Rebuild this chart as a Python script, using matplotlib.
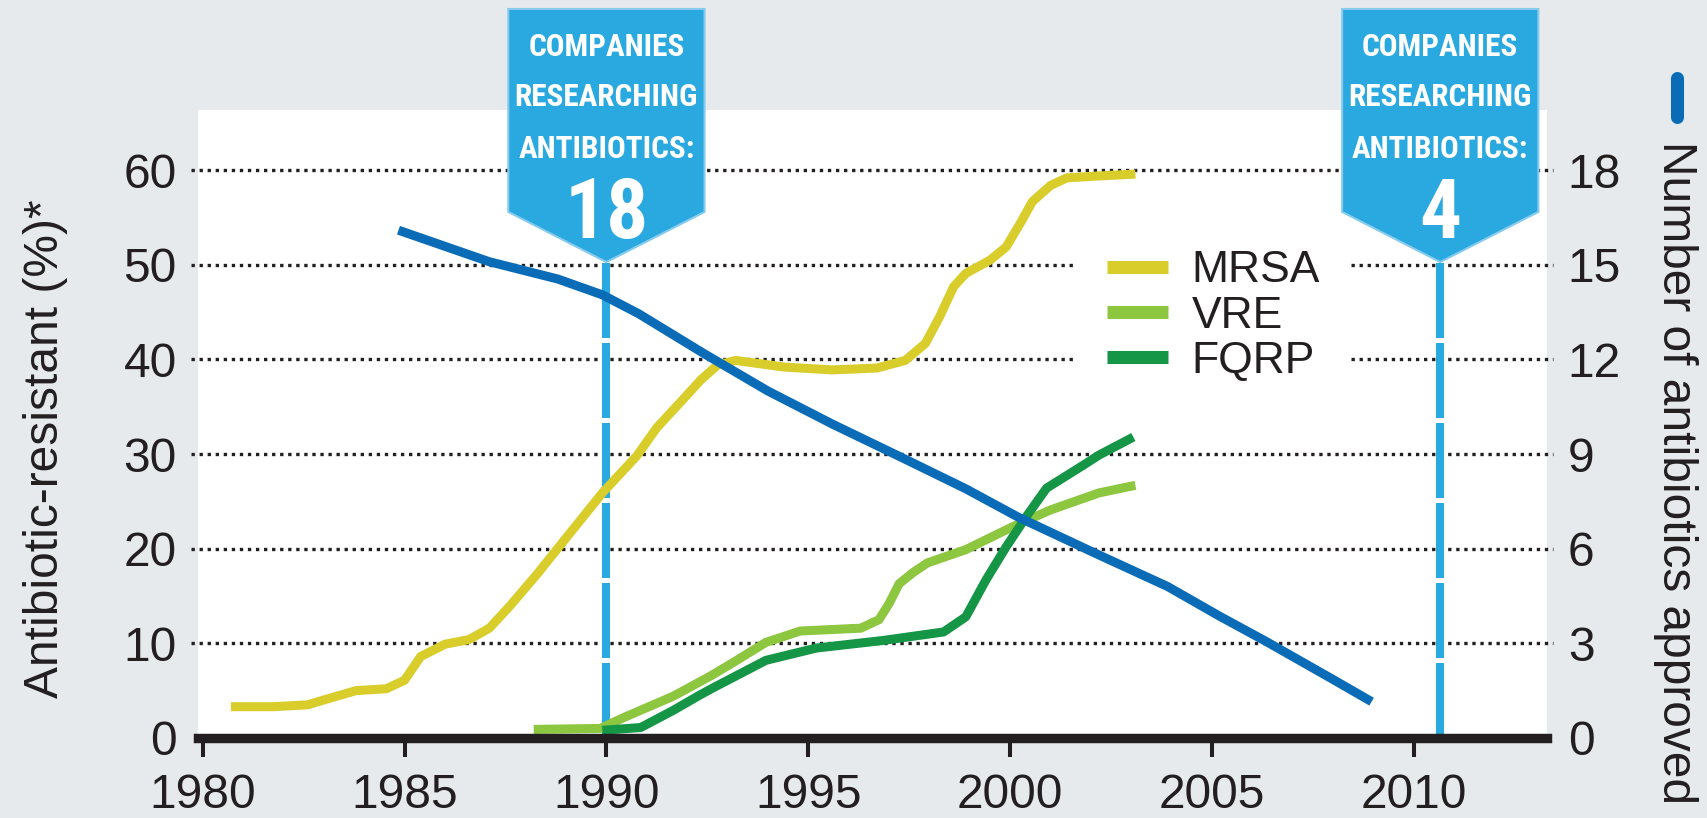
import matplotlib
matplotlib.use('Agg')
import matplotlib.pyplot as plt
from matplotlib.lines import Line2D
from matplotlib.patches import Polygon

# Resistance rates (%).
mrsa_years = [1980.7, 1981.75, 1982.6, 1983.15, 1983.8, 1984.55, 1985.0, 1985.4, 1986.0, 1986.6,
              1987.1, 1987.6, 1988.3, 1988.9, 1989.9, 1990.75, 1991.25, 1991.9, 1992.35, 1992.75,
              1993.2, 1994.4, 1995.6, 1996.7, 1997.4, 1997.9, 1998.25, 1998.6, 1998.9, 1999.5,
              1999.9, 2000.25, 2000.55, 2001.0, 2001.4, 2002.2, 2003.1]
mrsa_pct = [3.3, 3.3, 3.5, 4.2, 5.0, 5.2, 6.1, 8.6, 9.9, 10.4,
            11.6, 13.9, 17.4, 20.6, 25.9, 29.8, 32.8, 35.8, 37.9, 39.4,
            39.9, 39.2, 38.9, 39.1, 39.9, 41.7, 44.5, 47.7, 49.1, 50.5,
            51.9, 54.4, 56.7, 58.4, 59.2, 59.4, 59.6]

vre_years = [1988.2, 1989.85, 1990.4, 1991.65, 1992.3, 1992.6, 1993.15, 1993.95, 1994.8, 1996.3,
             1996.75, 1997.0, 1997.25, 1997.6, 1997.95, 1998.9, 2000.05, 2001.0, 2002.2, 2003.1]
vre_pct = [0.9, 1.0, 2.1, 4.4, 5.9, 6.6, 8.0, 10.1, 11.3, 11.6,
           12.5, 14.2, 16.3, 17.5, 18.5, 19.9, 22.3, 24.1, 25.9, 26.7]

fqrp_years = [1989.9, 1990.85, 1991.65, 1992.3, 1992.6, 1993.95, 1995.2, 1996.85, 1998.35, 1998.9,
              1999.4, 1999.9, 2000.4, 2000.9, 2001.8, 2002.2, 2003.05]
fqrp_pct = [0.8, 1.1, 2.9, 4.5, 5.2, 8.2, 9.5, 10.3, 11.2, 12.8,
            16.7, 20.2, 23.4, 26.4, 28.8, 29.9, 31.8]

# Number of antibiotics approved (right axis).
approved_years = [1984.85, 1987.1, 1988.8, 1989.9, 1990.8, 1992.4, 1994.0, 1995.6, 1997.3,
                  1998.9, 2000.2, 2002.2, 2003.9, 2005.2, 2006.35, 2008.0, 2008.95]
approved_count = [16.1, 15.1, 14.55, 14.05, 13.45, 12.2, 11.0, 9.95, 8.9,
                  7.9, 7.0, 5.8, 4.8, 3.85, 3.05, 1.85, 1.15]

series_names = ['MRSA', 'VRE', 'FQRP']

x_ticks = [1980, 1985, 1990, 1995, 2000, 2005, 2010]
left_ticks = [0, 10, 20, 30, 40, 50, 60]
right_ticks = [0, 3, 6, 9, 12, 15, 18]

callout_years = [1990, 2010.65]
callout_counts = ['18', '4']
callout_lines = ['COMPANIES', 'RESEARCHING', 'ANTIBIOTICS:']

BG = '#E7EAED'
INK = '#231F20'
YELLOW = '#D8CD2A'
LIGHT_GREEN = '#8DC63F'
DARK_GREEN = '#159646'
BLUE = '#0A6CB7'
CYAN = '#29A9E0'
NARROW = ['Roboto Condensed', 'Liberation Sans Narrow', 'Open Sans Condensed', 'Roboto', 'DejaVu Sans']


def main():
    plt.rcParams['font.family'] = ['Liberation Sans', 'DejaVu Sans']
    plt.rcParams['lines.scale_dashes'] = False

    fig = plt.figure(figsize=(17.08, 8.18), dpi=100, facecolor=BG)
    ax = fig.add_axes([0.1159, 0.0979, 0.7896, 0.7676])
    ax.set_facecolor('white')
    ax.set_xlim(1979.884, 2013.284)
    ax.set_ylim(0, 66.37)
    ax2 = ax.twinx()
    ax2.set_ylim(0, 66.37 * 0.3)

    # Dotted guide lines, slightly wider than the plot.
    x0, x1 = ax.get_xlim()
    for y in left_ticks[1:]:
        ax.plot([x0 - 0.16, x1 + 0.16], [y, y], color=INK, lw=2.4, dashes=(2.4, 3.4),
                clip_on=False, zorder=1)

    # Curves.
    kw = dict(lw=6.5, solid_joinstyle='round', solid_capstyle='butt', zorder=3)
    h_mrsa, = ax.plot(mrsa_years, mrsa_pct, color=YELLOW, **kw)
    h_vre, = ax.plot(vre_years, vre_pct, color=LIGHT_GREEN, **kw)
    h_fqrp, = ax.plot(fqrp_years, fqrp_pct, color=DARK_GREEN, **kw)
    ax2.plot(approved_years, approved_count, color=BLUE, **kw)

    # Callouts: size the words so the longest line fills the box like the original.
    renderer = fig.canvas.get_renderer()
    probe = fig.text(0, 0, 'RESEARCHING', fontsize=20, fontweight='bold', family=NARROW)
    word_size = 20 * 184 / probe.get_window_extent(renderer).width
    probe.remove()
    cap = 0.72 * word_size * 100 / 72          # cap height in pixels
    num_size = 60
    num_cap = 0.72 * num_size * 100 / 72

    def px_to_val(py):
        return (737.9 - py) / 9.46

    hw, top, shoulder, tip = 2.43, 77.05, 55.6, 50.3
    for year, count in zip(callout_years, callout_counts):
        ax.plot([year, year], [0, tip], color=CYAN, lw=5.8, dashes=(54, 3.6), zorder=2)
        shape = Polygon([(year - hw, top), (year + hw, top), (year + hw, shoulder),
                         (year, tip), (year - hw, shoulder)], closed=True,
                        facecolor=CYAN, edgecolor='#86CBEE', lw=1.5, clip_on=False, zorder=5)
        ax.add_patch(shape)
        for label, centre in zip(callout_lines, [45, 94.5, 146.5]):
            ax.text(year, px_to_val(centre + cap / 2), label, ha='center', va='baseline',
                    color='white', fontsize=word_size, fontweight='bold', family=NARROW,
                    clip_on=False, zorder=6)
        ax.text(year, px_to_val(208 + num_cap / 2), count, ha='center', va='baseline',
                color='white', fontsize=num_size, fontweight='bold', family=NARROW,
                clip_on=False, zorder=6)

    # Axes styling.
    for side in ['top', 'left', 'right']:
        ax.spines[side].set_visible(False)
        ax2.spines[side].set_visible(False)
    ax2.spines['bottom'].set_visible(False)
    ax.spines['bottom'].set_linewidth(6.8)
    ax.spines['bottom'].set_color(INK)
    ax.spines['bottom'].set_zorder(4)

    ax.set_xticks(x_ticks)
    ax.set_yticks(left_ticks)
    ax2.set_yticks(right_ticks)
    ax.tick_params(axis='x', length=13.5, width=2.9, color=INK, pad=12,
                   labelsize=34.5, labelcolor=INK)
    ax.tick_params(axis='y', length=0, pad=15.3, labelsize=34.5, labelcolor=INK)
    ax2.tick_params(axis='y', length=0, pad=15.3, labelsize=34.5, labelcolor=INK)

    # Legend on a white patch that hides the dotted lines behind it.
    leg = ax.legend([h_mrsa, h_vre, h_fqrp], series_names, loc='upper left',
                    bbox_to_anchor=(1076 / 1708, 1 - 219 / 818), bbox_transform=fig.transFigure,
                    frameon=True, fancybox=False, fontsize=32, handlelength=1.375,
                    handletextpad=0.52, labelspacing=0.1, borderpad=0.7, borderaxespad=0)
    leg.get_frame().set_facecolor('white')
    leg.get_frame().set_edgecolor('none')
    leg.get_frame().set_alpha(1)
    leg.set_zorder(5)
    for line in leg.get_lines():
        line.set_linewidth(9.4)
    for text in leg.get_texts():
        text.set_color(INK)

    # Axis titles.
    fig.text(46 / 1708, 0.4517, 'Antibiotic-resistant (%)*', rotation=90, ha='center',
             va='center', fontsize=34.5, color=INK)
    fig.text(1676 / 1708, 1 - 141 / 818, 'Number of antibiotics approved', rotation=270,
             ha='center', va='top', fontsize=34.5, color=INK)
    fig.add_artist(Line2D([1676.7 / 1708, 1676.7 / 1708], [1 - 78 / 818, 1 - 117 / 818],
                          color=BLUE, lw=9.4, solid_capstyle='round'))

    fig.savefig('out.png', dpi=100, facecolor=BG)
    plt.close(fig)


if __name__ == '__main__':
    main()
